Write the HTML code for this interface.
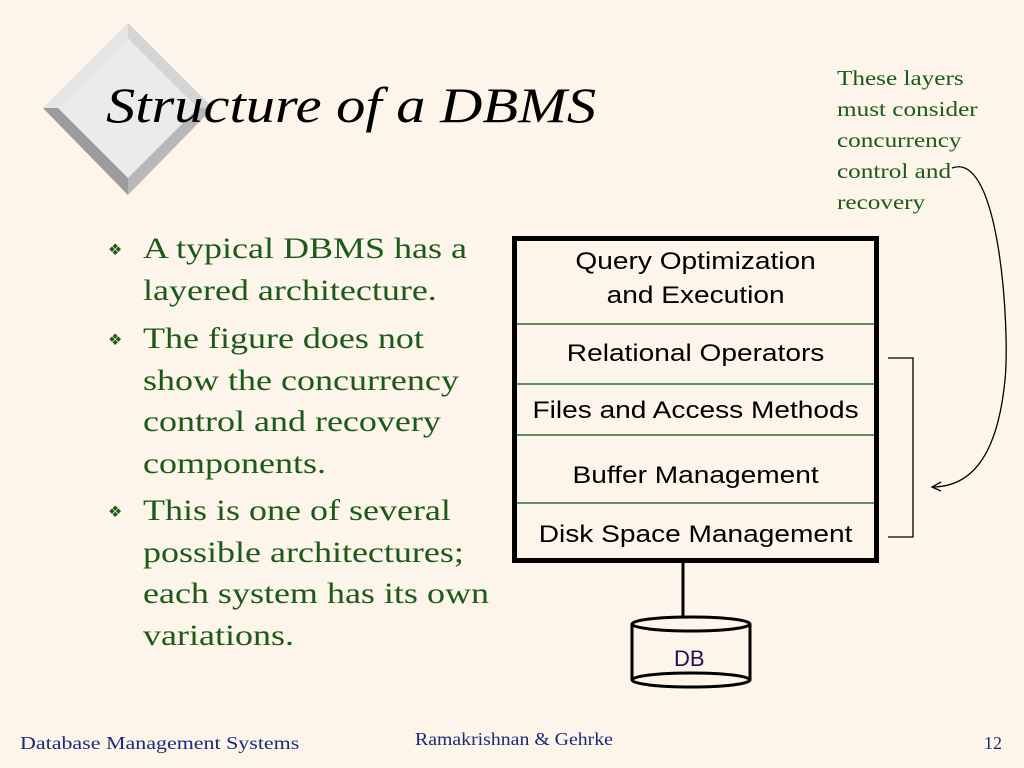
<!DOCTYPE html>
<html><head><meta charset="utf-8"><style>
body{margin:0;width:1024px;height:768px;background:#fdf5e9;position:relative;overflow:hidden;font-family:"Liberation Serif",serif}
.t{position:absolute;white-space:nowrap;transform-origin:0 0}
.b{color:#1b5a1b;font-size:30px;line-height:41.5px;transform:scaleX(1.2)}
.s{font-family:"Liberation Sans",sans-serif;font-size:24px;color:#000;text-align:center;position:absolute;left:0;width:100%;transform:scaleX(1.17)}
</style></head><body>
<svg width="1024" height="768" style="position:absolute;left:0;top:0">
<polygon points="128,23 213,108 128,195 43,108" fill="#b8b8b8"/>
<polygon points="128,23 213,108 198,108 128,38" fill="#d4d4d4"/>
<polygon points="128,23 43,108 58,108 128,38" fill="#e6e6e6"/>
<polygon points="43,108 128,195 128,178 58,108" fill="#9c9c9c"/>
<polygon points="128,38 198,108 128,178 58,108" fill="#ebebeb"/>
<rect x="514.5" y="238.5" width="362" height="322" fill="#fdf5e9" stroke="#000" stroke-width="5"/>
<g stroke="#2d6e2d" stroke-width="1.5"><line x1="517" y1="324" x2="874" y2="324"/><line x1="517" y1="384" x2="874" y2="384"/><line x1="517" y1="435" x2="874" y2="435"/><line x1="517" y1="503" x2="874" y2="503"/></g>
<line x1="683" y1="563" x2="683" y2="618" stroke="#000" stroke-width="3"/>
<path d="M632,624 V680 M750,624 V680" stroke="#000" stroke-width="3"/>
<ellipse cx="691" cy="624" rx="59" ry="7" fill="#fdf5e9" stroke="#000" stroke-width="3"/>
<ellipse cx="691" cy="680" rx="59" ry="7" fill="none" stroke="#000" stroke-width="3"/>
<path d="M888,358 H913 V537 H888" fill="none" stroke="#000" stroke-width="1.3"/>
<path d="M952,168 C1000,150 1010,330 1005,380 C998,450 975,487 932,487" fill="none" stroke="#000" stroke-width="1.3"/>
<path d="M941,482 L932,487 L941,491" fill="none" stroke="#000" stroke-width="1.3"/>
</svg>
<div class="t" style="left:106px;top:76px;font-size:50px;font-style:italic;color:#000;transform:scaleX(1.17)">Structure of a DBMS</div>
<div class="t" style="left:837px;top:63px;font-size:21px;line-height:31px;color:#1b5a1b;transform:scaleX(1.2)">These layers<br>must consider<br>concurrency<br>control and<br>recovery</div>
<div class="t" style="left:108px;top:240px;font-size:16px;color:#1b5a1b">❖</div>
<div class="t b" style="left:143px;top:228px">A typical DBMS has a<br>layered architecture.</div>
<div class="t" style="left:108px;top:330px;font-size:16px;color:#1b5a1b">❖</div>
<div class="t b" style="left:143px;top:318px">The figure does not<br>show the concurrency<br>control and recovery<br>components.</div>
<div class="t" style="left:108px;top:502px;font-size:16px;color:#1b5a1b">❖</div>
<div class="t b" style="left:143px;top:490px">This is one of several<br>possible architectures;<br>each system has its own<br>variations.</div>
<div style="position:absolute;left:512px;top:0;width:367px;height:768px">
<div class="s" style="top:245px;line-height:34px;left:-30px;width:427px;transform-origin:213px 0">Query Optimization<br>and Execution</div>
<div class="s" style="top:340px;left:-30px;width:427px;transform-origin:213px 0">Relational Operators</div>
<div class="s" style="top:397px;left:-30px;width:427px;transform-origin:213px 0">Files and Access Methods</div>
<div class="s" style="top:462px;left:-30px;width:427px;transform-origin:213px 0">Buffer Management</div>
<div class="s" style="top:521px;left:-30px;width:427px;transform-origin:213px 0">Disk Space Management</div>
</div>
<div class="t" style="left:674px;top:646px;font-family:'Liberation Sans',sans-serif;font-size:22px;color:#2a0a5a">DB</div>
<div class="t" style="left:20px;top:733px;font-size:18px;color:#1a2a7a;transform:scaleX(1.22)">Database Management Systems</div>
<div class="t" style="left:415px;top:729px;font-size:18px;color:#1a2a7a;transform:scaleX(1.1)">Ramakrishnan &amp; Gehrke</div>
<div class="t" style="left:984px;top:733px;font-size:18px;color:#1a2a7a">12</div>
</body></html>
